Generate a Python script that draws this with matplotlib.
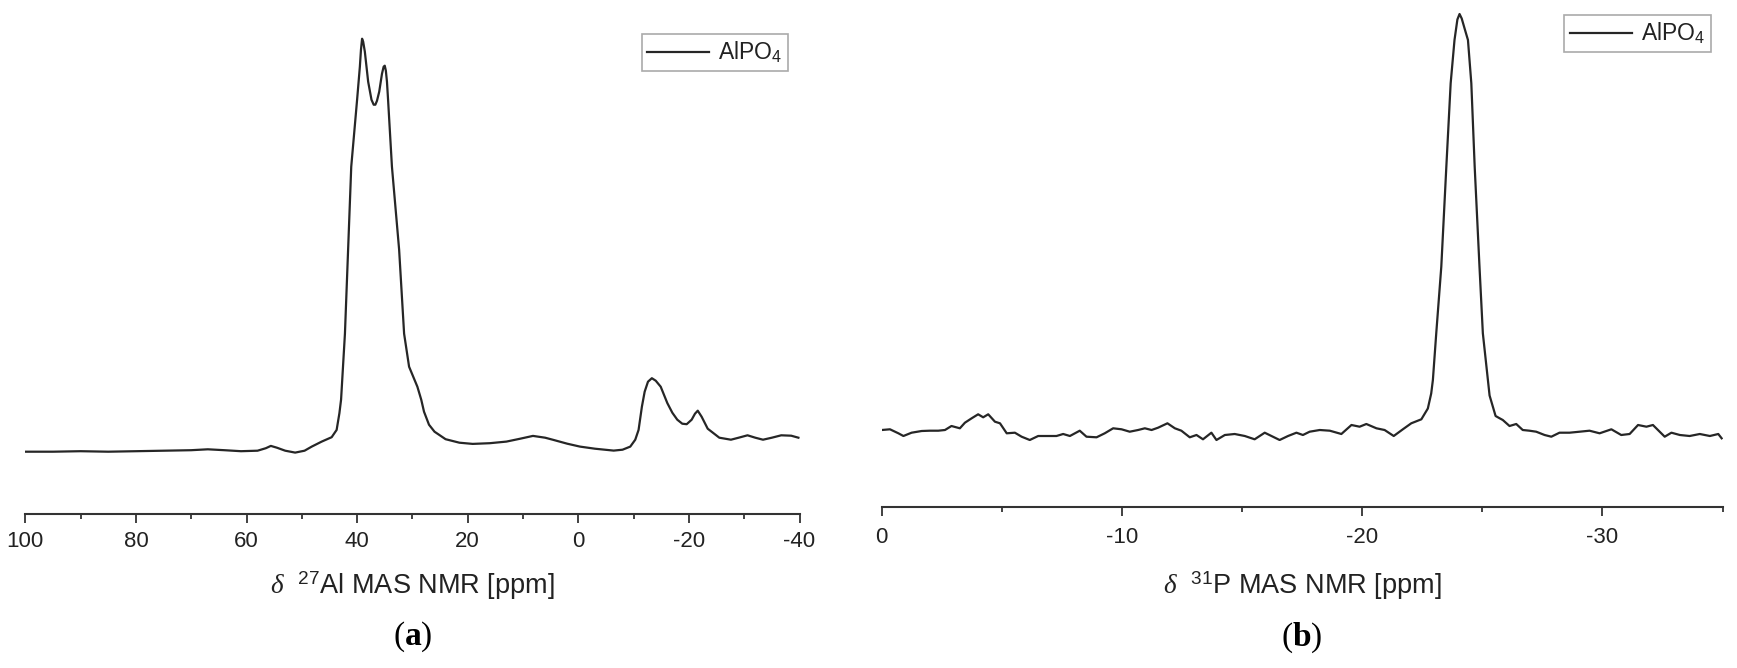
import matplotlib
matplotlib.use("Agg")
import matplotlib.pyplot as plt
from matplotlib.ticker import MultipleLocator

plt.rcParams['font.family'] = ['Liberation Sans', 'DejaVu Sans']
plt.rcParams['mathtext.fontset'] = 'custom'
plt.rcParams['mathtext.rm'] = 'Liberation Sans'
plt.rcParams['mathtext.it'] = 'Liberation Serif:italic'
plt.rcParams['mathtext.bf'] = 'Liberation Serif:bold'
plt.rcParams['axes.unicode_minus'] = False

# ---------------- data: (a) 27Al MAS NMR ----------------
ppm_al = [100, 95, 90, 85, 80, 75, 70, 67, 64, 61, 58, 56.5, 55.6, 54.5, 53, 51.2,
          49.5, 48.2, 46.4, 44.6, 43.7, 43.2, 42.9, 42.2, 41.06, 40.0, 39.5, 39.3,
          39.1, 38.9, 38.6, 38.0, 37.4, 37.0, 36.7, 36.4, 36.0, 35.5, 35.2, 35.0,
          34.8, 34.6, 34.4, 33.7, 32.4, 31.5, 30.6, 29.1, 28.4, 27.9, 27.0, 26.0,
          24.0, 21.5, 19.1, 16, 13.0, 10.5, 8.2, 6, 4.5, 2, -0.3, -3, -6.4, -8,
          -9.4, -10.3, -10.9, -11.5, -12.0, -12.6, -13.3, -14.0, -14.9, -16.1,
          -17.0, -17.9, -18.8, -19.6, -20.5, -21.1, -21.6, -22.3, -23.4, -25.5,
          -27.6, -29, -30.6, -32, -33.4, -35, -36.7, -38.5, -39.8]
int_al = [0, 0, 0.5, 0, 0.5, 1, 1.5, 2.4, 1.5, 0.5, 1, 3.5, 5.8, 4, 1, -0.9,
          1, 5.1, 10.1, 14.5, 21.8, 38.5, 52, 118, 285, 352, 385, 402,
          413, 410, 400, 370, 352, 347, 347, 351, 360, 378, 385, 386,
          381, 370, 352, 285, 202, 118, 85, 65, 52, 40, 27, 20,
          12.5, 9, 7.8, 8.5, 10.1, 13, 15.8, 14, 11.8, 8, 5.1, 3, 1.1, 2,
          5.1, 12, 21.8, 45, 60, 70, 73.5, 71, 65, 48.6,
          39, 32, 28, 27.5, 32, 38, 41, 35, 23, 14,
          12, 14, 16.4, 14, 12, 14, 16.4, 16, 14]

# ---------------- data: (b) 31P MAS NMR ----------------
ppm_p = [0, -0.34, -0.69, -0.9, -1.24, -1.66, -2.0, -2.35, -2.63, -2.9, -3.25, -3.46,
         -3.74, -4.01, -4.22, -4.43, -4.71, -4.92, -5.2, -5.54, -5.82, -6.16, -6.51,
         -6.93, -7.27, -7.55, -7.83, -8.24, -8.52, -8.94, -9.28, -9.63, -9.98,
         -10.32, -10.67, -10.95, -11.23, -11.5, -11.89, -12.2, -12.47, -12.82,
         -13.1, -13.37, -13.72, -13.93, -14.28, -14.69, -15.11, -15.52, -15.94,
         -16.22, -16.56, -16.91, -17.26, -17.53, -17.81, -18.23, -18.65, -19.13,
         -19.55, -19.89, -20.17, -20.59, -20.93, -21.31, -21.69, -22.04, -22.46,
         -22.73, -22.87, -22.94, -23.08, -23.29, -23.5, -23.68, -23.84, -23.96,
         -24.05, -24.14, -24.26, -24.4, -24.54, -24.68, -24.88, -25.02, -25.3,
         -25.55, -25.72, -25.85, -26.13, -26.41, -26.68, -26.96, -27.24, -27.59,
         -27.87, -28.21, -28.63, -29.05, -29.46, -29.88, -30.37, -30.78, -31.13,
         -31.48, -31.83, -32.1, -32.38, -32.59, -32.87, -33.22, -33.63, -34.05,
         -34.47, -34.82, -34.96]
int_p = [3.5, 4.2, 0.2, -2.5, 0.8, 2.5, 2.8, 2.8, 3.5, 7.5, 5.2, 10.8,
         15.2, 19.2, 16.2, 19.2, 11.8, 10.2, 0.2, 0.8, -3.2, -6.5, -2.5,
         -2.5, -2.5, -0.5, -2.5, 2.8, -3.2, -3.8, 0.2, 5.2, 4.2,
         1.8, 3.5, 5.2, 3.5, 5.8, 10.2, 5.2, 2.8, -3.8,
         -1.5, -5.8, 0.8, -6.5, -1.5, -0.5, -2.5, -5.8, 0.8,
         -2.5, -6.5, -2.5, 0.8, -1.5, 1.8, 3.5, 2.8, -0.5,
         8.5, 6.8, 9.5, 5.2, 3.5, -2.5, 4.2, 10.2, 14.2,
         25, 40, 53.5, 100.2, 166.8, 266.8, 350.2, 393.5, 414,
         419.5, 415, 405, 393.5, 350.2, 266.8, 166.8, 100.2, 38,
         17.5, 15.2, 13.5, 7.5, 9.5, 3.5, 2.8, 1.8, -1.5,
         -3.2, 0.8, 0.8, 1.8, 2.8, 0.2, 4.2, -1.5, -0.5,
         8.5, 6.8, 8.5, 1.8, -3.2, 0.8, -1.5, -2.5, -0.5,
         -2.5, -0.5, -4.8]

series_label = "AlPO$_4$"
xlabel_a = r"$\delta$  $^{27}$Al MAS NMR [ppm]"
xlabel_b = r"$\delta$  $^{31}$P MAS NMR [ppm]"
panel_a = r"($\mathbf{a}$)"
panel_b = r"($\mathbf{b}$)"

W, H = 1737, 668
fig = plt.figure(figsize=(W / 100, H / 100), dpi=100)

def px_axes(x0, x1, ybot, ytop):
    return fig.add_axes([x0 / W, 1 - ybot / H, (x1 - x0) / W, (ybot - ytop) / H])

line_color = '#262626'
axis_color = '#333333'
text_color = '#222222'

def style(ax, major, minor, pad):
    for s in ['top', 'right', 'left']:
        ax.spines[s].set_visible(False)
    ax.spines['bottom'].set_color(axis_color)
    ax.spines['bottom'].set_linewidth(1.5)
    ax.set_yticks([])
    ax.xaxis.set_major_locator(MultipleLocator(major))
    ax.xaxis.set_minor_locator(MultipleLocator(minor))
    ax.tick_params(axis='x', which='major', direction='out', length=6.5, width=1.3,
                   color=axis_color, labelsize=16, labelcolor=text_color, pad=pad)
    ax.tick_params(axis='x', which='minor', direction='out', length=3.8, width=1.3,
                   color=axis_color)
    ax.patch.set_alpha(0)

def legend(ax, x0, y0):
    leg = ax.legend(loc='upper left', bbox_to_anchor=(x0 / W, 1 - y0 / H),
                    bbox_transform=fig.transFigure, borderaxespad=0,
                    fontsize=16.5, handlelength=2.7, handletextpad=0.4,
                    borderpad=0.25, fancybox=False, framealpha=1,
                    edgecolor='#aaaaaa')
    leg.get_frame().set_linewidth(1.2)
    for t in leg.get_texts():
        t.set_color(text_color)

# ---- panel (a)
axa = px_axes(25.3, 799.5, 514, 5)
axa.plot(ppm_al, int_al, color=line_color, lw=1.6, label=series_label,
         solid_joinstyle='round')
axa.set_xlim(100, -40)
axa.set_ylim(-62.3, 446.7)
style(axa, 20, 10, 5.5)
legend(axa, 641.7, 34)
fig.text(412.4 / W, 1 - 586 / H, xlabel_a, ha='center', va='center',
         fontsize=19.5, color=text_color)
fig.text(412.4 / W, 1 - 637 / H, panel_a, ha='center', va='center',
         fontsize=24, family='Liberation Serif', color='black')

# ---- panel (b)
axb = px_axes(881.8, 1722.6, 507, 5)
axb.plot(ppm_p, int_p, color=line_color, lw=1.6, label=series_label,
         solid_joinstyle='round')
axb.set_xlim(0, -35)
axb.set_ylim(-73.5, 428.5)
style(axb, 10, 5, 8)
legend(axb, 1564, 15)
fig.text(1302 / W, 1 - 586 / H, xlabel_b, ha='center', va='center',
         fontsize=19.5, color=text_color)
fig.text(1302 / W, 1 - 638 / H, panel_b, ha='center', va='center',
         fontsize=24, family='Liberation Serif', color='black')

fig.savefig('out.png', dpi=100, facecolor='white')
